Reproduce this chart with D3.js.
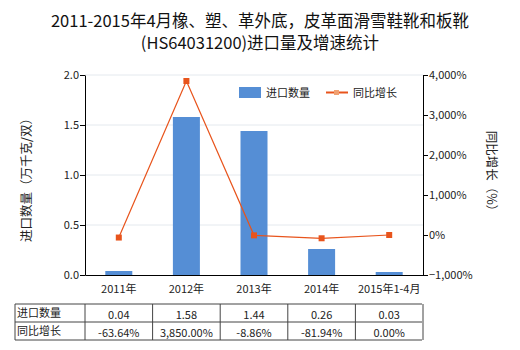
<!DOCTYPE html>
<html><head><meta charset="utf-8">
<script src="https://cdn.jsdelivr.net/npm/d3@7"></script>
<style>body{margin:0;background:#fff}svg{font-family:"Noto Sans CJK SC","Noto Sans",sans-serif}</style>
</head><body><svg id="c" width="520" height="350"></svg>
<script>
const categories = ["2011年","2012年","2013年","2014年","2015年1-4月"];
const quantity = [0.04,1.58,1.44,0.26,0.03];
const growth = [-63.64,3850.00,-8.86,-81.94,0.00];
const quantityLabels = ["0.04","1.58","1.44","0.26","0.03"];
const growthLabels = ["-63.64%","3,850.00%","-8.86%","-81.94%","0.00%"];
const leftTicks = [0,0.5,1.0,1.5,2.0];
const rightTicks = [-1000,0,1000,2000,3000,4000];
const titleLines = ["2011-2015年4月橡、塑、革外底，皮革面滑雪鞋靴和板靴","(HS64031200)进口量及增速统计"];
const seriesNames = ["进口数量","同比增长"];

const svg = d3.select("#c");
const L=85,R=423,T=75,B=275;
const xc = d3.scaleBand().domain(categories).range([L,R]);
const y = d3.scaleLinear().domain([0,2]).range([B,T]);
const y2 = d3.scaleLinear().domain([-1000,4000]).range([B,T]);
const barColor="#558ed5", lineColor="#e8541c";

// title
svg.selectAll("text.title").data(titleLines).enter().append("text")
  .attr("x",260).attr("y",(d,i)=>27+i*22).attr("text-anchor","middle")
  .attr("font-size",16.5).attr("fill","#111").text(d=>d);

// grid
svg.append("g").selectAll("line").data(leftTicks.slice(1)).enter().append("line")
  .attr("x1",L).attr("x2",R).attr("y1",d=>y(d)).attr("y2",d=>y(d))
  .attr("stroke","#e4e9ee").attr("stroke-width",1);

// bars
svg.append("g").selectAll("rect").data(quantity).enter().append("rect")
  .attr("x",(d,i)=>xc(categories[i])+xc.bandwidth()/2-13.5).attr("width",27)
  .attr("y",d=>y(d)).attr("height",d=>B-y(d)).attr("fill",barColor);

// line
const line = d3.line().x((d,i)=>xc(categories[i])+xc.bandwidth()/2).y(d=>y2(d));
svg.append("path").datum(growth).attr("d",line).attr("fill","none").attr("stroke",lineColor).attr("stroke-width",1.2);
svg.append("g").selectAll("rect").data(growth).enter().append("rect")
  .attr("x",(d,i)=>xc(categories[i])+xc.bandwidth()/2-3).attr("y",d=>y2(d)-3)
  .attr("width",6).attr("height",6).attr("fill",lineColor);

// axes
const fmtL = d3.format(".1f");
const gl = svg.append("g").attr("transform",`translate(${L},0)`)
  .call(d3.axisLeft(y).tickValues(leftTicks).tickFormat(fmtL).tickSize(5).tickSizeOuter(0));
const fmtR = d=>d3.format(",")(d)+"%";
const gr = svg.append("g").attr("transform",`translate(${R},0)`)
  .call(d3.axisRight(y2).tickValues(rightTicks).tickFormat(fmtR).tickSize(5).tickSizeOuter(0));
const gb = svg.append("g").attr("transform",`translate(0,${B})`)
  .call(d3.axisBottom(xc).tickSize(0).tickSizeOuter(0));
[gl,gr,gb].forEach(g=>{
  g.selectAll("path,line").attr("stroke","#000");
  g.selectAll("text").attr("font-size",11).attr("fill","#222").attr("font-family","\"Noto Sans CJK SC\",sans-serif");
});
gb.selectAll("text").attr("dy","1.35em");
gl.selectAll("text").attr("x",-6);
gr.selectAll("text").attr("x",6);

// axis titles
svg.append("text").attr("transform","translate(31,177) rotate(-90)").attr("text-anchor","middle")
  .attr("font-size",12.5).attr("fill","#222").text("进口数量（万千克/双）");
svg.append("text").attr("transform","translate(487,174) rotate(90)").attr("text-anchor","middle")
  .attr("font-size",12.5).attr("fill","#222").text("同比增长（%）");

// legend
svg.append("rect").attr("x",239).attr("y",87).attr("width",22).attr("height",11).attr("fill",barColor);
svg.append("text").attr("x",266).attr("y",97).attr("font-size",11).attr("fill","#222").text(seriesNames[0]);
svg.append("line").attr("x1",326).attr("x2",348).attr("y1",92.5).attr("y2",92.5).attr("stroke",lineColor).attr("stroke-width",2);
svg.append("rect").attr("x",334).attr("y",90).attr("width",5).attr("height",5).attr("fill","#f0a070");
svg.append("text").attr("x",353).attr("y",97).attr("font-size",11).attr("fill","#222").text(seriesNames[1]);

// table
const colX=[15,85].concat(categories.map(c=>xc(c)+xc.bandwidth()));
const rowY=[304,322,340];
const tg=svg.append("g");
rowY.forEach(yy=>tg.append("line").attr("x1",15).attr("x2",422).attr("y1",yy).attr("y2",yy).attr("stroke","#444"));
colX.forEach(xx=>tg.append("line").attr("x1",xx).attr("x2",xx).attr("y1",304).attr("y2",340).attr("stroke","#444"));
const rows=[[seriesNames[0]].concat(quantityLabels),[seriesNames[1]].concat(growthLabels)];
rows.forEach((r,ri)=>{
  r.forEach((t,ci)=>{
    const cx = ci===0?17:(colX[ci]+colX[ci+1])/2;
    tg.append("text").attr("x",cx).attr("y",rowY[ri]+(ci===0?13:14.5))
      .attr("text-anchor",ci===0?"start":"middle").attr("font-size",11).attr("fill","#222").text(t);
  });
});
</script></body></html>
